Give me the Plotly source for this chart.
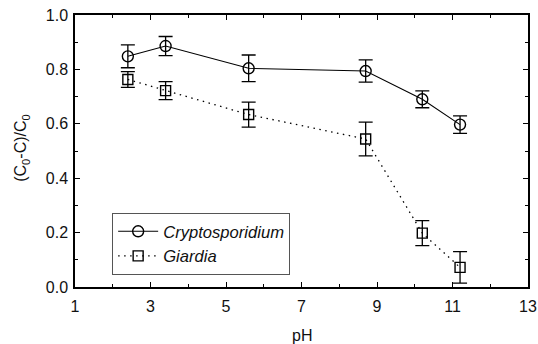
import plotly.graph_objects as go

# pH of each run
ph = [2.4, 3.4, 5.6, 8.7, 10.2, 11.2]

# fractional removal (C0-C)/C0 and standard deviations
crypto = [0.848, 0.886, 0.804, 0.794, 0.690, 0.597]
crypto_err = [0.042, 0.035, 0.049, 0.041, 0.031, 0.032]
giardia = [0.763, 0.722, 0.634, 0.544, 0.198, 0.072]
giardia_err = [0.029, 0.033, 0.046, 0.062, 0.046, 0.058]

x_ticks = [1, 3, 5, 7, 9, 11, 13]
y_ticks = [0.0, 0.2, 0.4, 0.6, 0.8, 1.0]

font_family = "Arial, Liberation Sans, sans-serif"

fig = go.Figure()
fig.add_trace(go.Scatter(
    x=ph, y=crypto, name="<i>Cryptosporidium</i>",
    mode="lines+markers",
    line=dict(color="black", width=1.1),
    marker=dict(symbol="circle-open", size=11, color="black", line=dict(width=1.4)),
    error_y=dict(type="data", array=crypto_err, color="black", thickness=1.3, width=7),
))
fig.add_trace(go.Scatter(
    x=ph, y=giardia, name="<i>Giardia</i>",
    mode="lines+markers",
    line=dict(color="black", width=1.3, dash="1.5px,4.5px"),
    marker=dict(symbol="square-open", size=10, color="black", line=dict(width=1.4)),
    error_y=dict(type="data", array=giardia_err, color="black", thickness=1.3, width=7),
))

axis_common = dict(
    showgrid=False, zeroline=False, showline=True, linecolor="black", linewidth=1.5,
    mirror="allticks", ticks="inside", ticklen=5, tickwidth=1.2, tickcolor="black",
    tickfont=dict(size=16, color="#111"), automargin=False,
)

fig.update_layout(
    width=538, height=344,
    margin=dict(l=75, r=10, t=15, b=57),
    paper_bgcolor="white", plot_bgcolor="white",
    font=dict(family=font_family, size=16, color="#111"),
    showlegend=True,
    legend=dict(
        x=0.082, y=0.044, xanchor="left", yanchor="bottom",
        bgcolor="white", bordercolor="#555", borderwidth=1,
        font=dict(size=16.6), tracegroupgap=0, itemwidth=40,
    ),
    xaxis=dict(
        range=[1, 13], tickvals=x_ticks, ticktext=[str(v) for v in x_ticks],
        minor=dict(dtick=1, ticklen=3, tickwidth=1, tickcolor="black", ticks="inside"),
        ticklabelstandoff=4,
        **axis_common,
    ),
    yaxis=dict(
        range=[0, 1.0], tickvals=y_ticks, ticktext=[f"{v:.1f}" for v in y_ticks],
        minor=dict(dtick=0.1, ticklen=3, tickwidth=1, tickcolor="black", ticks="inside"),
        ticklabelstandoff=2,
        **axis_common,
    ),
    annotations=[
        dict(text="pH", xref="paper", yref="paper", x=0.5, y=-0.18,
             xanchor="center", yanchor="middle", showarrow=False, font=dict(size=16)),
        dict(text="(C<sub>0</sub>-C)/C<sub>0</sub>", xref="paper", yref="paper",
             x=-0.118, y=0.51, textangle=-90, xanchor="center", yanchor="middle",
             showarrow=False, font=dict(size=16)),
    ],
)

fig.write_html("out.html")
